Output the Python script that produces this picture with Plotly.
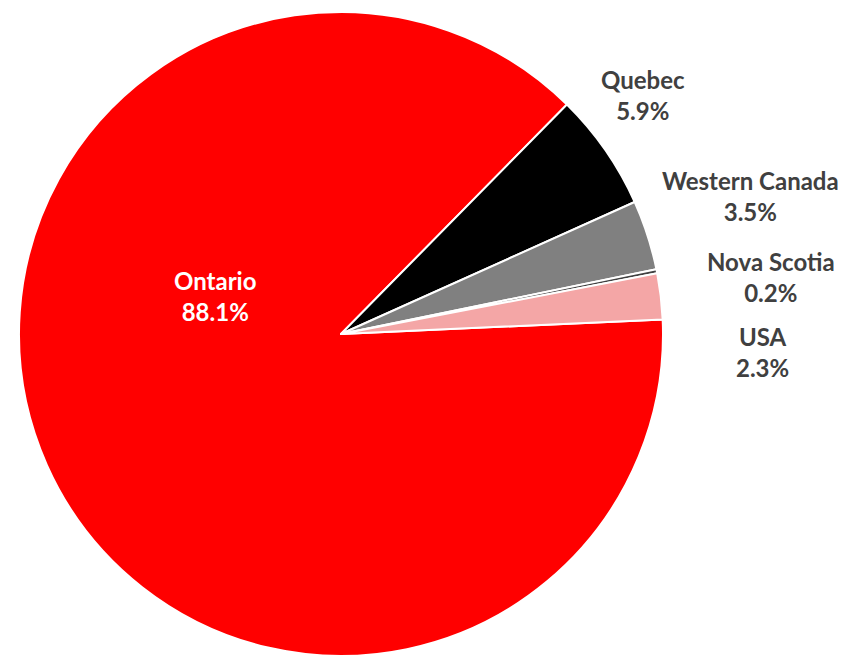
import plotly.graph_objects as go

# Data
regions = ["Ontario", "Quebec", "Western Canada", "Nova Scotia", "USA"]
shares = [88.1, 5.9, 3.5, 0.2, 2.3]
colors = ["#FF0000", "#000000", "#808080", "#404040", "#F4A6A6"]

# Label placement (pixel centres in the 844x656 canvas) - styling only
label_pos = {
    "Ontario": (216, 296),
    "Quebec": (643, 95),
    "Western Canada": (750, 196),
    "Nova Scotia": (771, 277),
    "USA": (762, 352),
}
W, H = 844, 656

fig = go.Figure(go.Pie(
    labels=regions,
    values=shares,
    sort=False,
    direction="clockwise",
    rotation=87.4,
    marker=dict(colors=colors, line=dict(color="#FFFFFF", width=2)),
    textinfo="none",
    hoverinfo="label+percent",
    showlegend=False,
    domain=dict(x=[(341 - 322) / W, (341 + 322) / W], y=[0, 1 - 12 / H]),
))

annotations = []
for name, val in zip(regions, shares):
    px, py = label_pos[name]
    annotations.append(dict(
        x=px / W, y=1 - py / H, xref="paper", yref="paper",
        xanchor="center", yanchor="middle", showarrow=False,
        text=f"<b>{name}<br>{val:.1f}%</b>",
        font=dict(family="Lato, 'Open Sans', sans-serif", size=24,
                  color="#FFFFFF" if name == "Ontario" else "#404040"),
    ))

fig.update_layout(
    width=W, height=H,
    margin=dict(l=0, r=0, t=0, b=0),
    paper_bgcolor="#FFFFFF",
    plot_bgcolor="#FFFFFF",
    annotations=annotations,
)

fig.write_html(
    "out.html",
    config={"displayModeBar": False},
    post_script="document.body.style.margin='0';document.body.style.overflow='hidden';",
)
